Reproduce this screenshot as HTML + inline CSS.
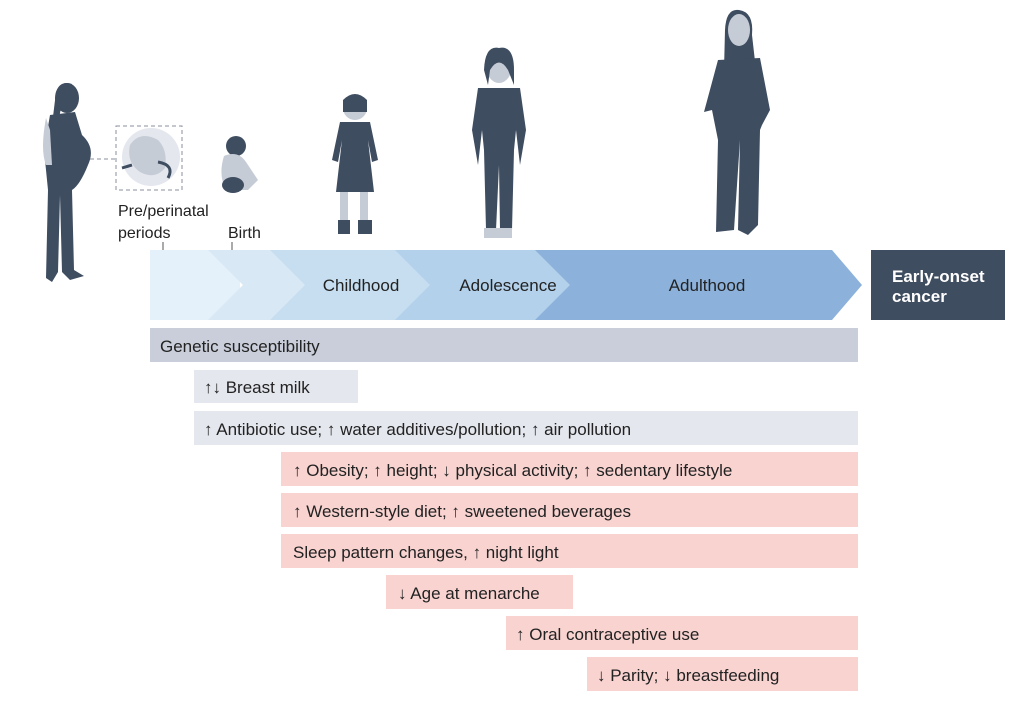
<!DOCTYPE html>
<html><head><meta charset="utf-8"><style>
html,body{margin:0;padding:0;background:#fff;}
svg{display:block;font-family:"Liberation Sans",sans-serif;}
</style></head><body>
<svg width="1024" height="704" viewBox="0 0 1024 704">
<!-- pregnant woman -->
<g fill="#3f4d61">
<ellipse cx="67" cy="98" rx="12" ry="15"/>
<path d="M56 92 Q60 80 72 84 Q62 95 58 125 L52 125Z"/>
<path d="M50 115 L75 112 L82 135 Q96 148 88 165 Q80 185 72 190 L74 270 L84 276 L70 280 L62 272 L60 195 L58 272 L52 282 L46 278 L48 190 L44 150 Z"/>
</g>
<path d="M46 118 Q40 150 46 165 L52 165 L50 130Z" fill="#c6ccd6"/>
<!-- dashed box fetus -->
<line x1="90" y1="159" x2="116" y2="159" stroke="#8a929e" stroke-dasharray="4,3"/>
<rect x="116" y="126" width="66" height="64" fill="none" stroke="#8a929e" stroke-dasharray="4,3"/>
<circle cx="151" cy="157" r="29" fill="#e4e7ee"/>
<path d="M130 145 Q140 130 158 140 Q168 150 165 168 Q155 180 140 172 Q126 162 130 145Z" fill="#c6ccd6"/>
<path d="M122 168 L132 165 M158 162 Q175 165 168 178" stroke="#3f4d61" stroke-width="3" fill="none"/>
<!-- baby -->
<circle cx="236" cy="146" r="10" fill="#3f4d61"/>
<path d="M224 156 Q238 150 246 162 L258 180 L248 190 L226 190 Q218 175 224 156Z" fill="#c6ccd6"/>
<ellipse cx="233" cy="185" rx="11" ry="8" fill="#3f4d61"/>
<!-- labels -->
<g font-size="16" fill="#222">
<text x="118" y="216">Pre/perinatal</text>
<text x="118" y="238">periods</text>
<text x="228" y="238">Birth</text>
</g>
<line x1="163" y1="242" x2="163" y2="252" stroke="#555"/>
<line x1="232" y1="242" x2="232" y2="252" stroke="#555"/>
<!-- girl -->
<g>
<circle cx="355" cy="108" r="12" fill="#c6ccd6"/>
<path d="M343 100 Q355 88 367 100 L367 112 L343 112Z" fill="#3f4d61"/>
<path d="M340 122 L370 122 L378 160 L372 162 L368 140 L374 192 L336 192 L342 140 L338 162 L332 160Z" fill="#3f4d61"/>
<rect x="340" y="192" width="8" height="30" fill="#c6ccd6"/><rect x="360" y="192" width="8" height="30" fill="#c6ccd6"/>
<rect x="338" y="220" width="12" height="14" fill="#3f4d61"/><rect x="358" y="220" width="14" height="14" fill="#3f4d61"/>
</g>
<!-- teen -->
<g>
<ellipse cx="499" cy="66" rx="13" ry="17" fill="#c6ccd6"/>
<path d="M484 70 Q485 45 499 48 Q514 45 514 70 L514 85 L508 70 Q499 55 490 70 L488 85Z" fill="#3f4d61"/>
<path d="M478 88 L520 88 L526 130 L520 165 L516 130 L514 150 L512 230 L500 230 L499 165 L496 230 L486 230 L484 150 L482 130 L478 165 L472 130Z" fill="#3f4d61"/>
<rect x="484" y="228" width="28" height="10" fill="#c6ccd6"/>
</g>
<!-- woman -->
<g fill="#3f4d61">
<path d="M725 30 Q726 8 739 10 Q754 12 752 35 L756 70 L724 70Z"/>
<ellipse cx="739" cy="30" rx="11" ry="16" fill="#c6ccd6"/>
<path d="M718 60 L760 58 L770 110 L762 125 L760 130 L758 225 L748 235 L738 230 L740 140 L734 230 L716 232 L718 140 L712 110 L704 112 Z"/>
</g>
<!-- chevrons -->
<polygon points="150,250 240,250 240,320 150,320" fill="#e5f1fa"/>
<polygon points="208,250 305,250 340,285 305,320 208,320 243,285" fill="#d8e8f5"/>
<polygon points="270,250 430,250 465,285 430,320 270,320 305,285" fill="#c6def0"/>
<polygon points="395,250 570,250 605,285 570,320 395,320 430,285" fill="#b3d1eb"/>
<polygon points="535,250 832,250 862,285 832,320 535,320 570,285" fill="#8cb2db"/>
<g font-size="17" fill="#222" text-anchor="middle">
<text x="361" y="291">Childhood</text>
<text x="508" y="291">Adolescence</text>
<text x="707" y="291">Adulthood</text>
</g>
<rect x="871" y="250" width="134" height="70" fill="#3f4d61"/>
<g font-size="17" fill="#fff" font-weight="bold"><text x="892" y="282">Early-onset</text><text x="892" y="302">cancer</text></g>
<!-- bars -->
<rect x="150" y="328" width="708" height="34" fill="#c9ceda"/>
<rect x="194" y="370" width="164" height="33" fill="#e4e7ee"/>
<rect x="194" y="411" width="664" height="34" fill="#e4e7ee"/>
<rect x="281" y="452" width="577" height="34" fill="#f8d3d0"/>
<rect x="281" y="493" width="577" height="34" fill="#f8d3d0"/>
<rect x="281" y="534" width="577" height="34" fill="#f8d3d0"/>
<rect x="386" y="575" width="187" height="34" fill="#f8d3d0"/>
<rect x="506" y="616" width="352" height="34" fill="#f8d3d0"/>
<rect x="587" y="657" width="271" height="34" fill="#f8d3d0"/>
<g font-size="17" fill="#222">
<text x="160" y="352">Genetic susceptibility</text>
<text x="204" y="393">↑↓ Breast milk</text>
<text x="204" y="435">↑ Antibiotic use; ↑ water additives/pollution; ↑ air pollution</text>
<text x="293" y="476">↑ Obesity; ↑ height; ↓ physical activity; ↑ sedentary lifestyle</text>
<text x="293" y="517">↑ Western-style diet; ↑ sweetened beverages</text>
<text x="293" y="558">Sleep pattern changes, ↑ night light</text>
<text x="398" y="599">↓ Age at menarche</text>
<text x="516" y="640">↑ Oral contraceptive use</text>
<text x="597" y="681">↓ Parity; ↓ breastfeeding</text>
</g>
</svg>
</body></html>
